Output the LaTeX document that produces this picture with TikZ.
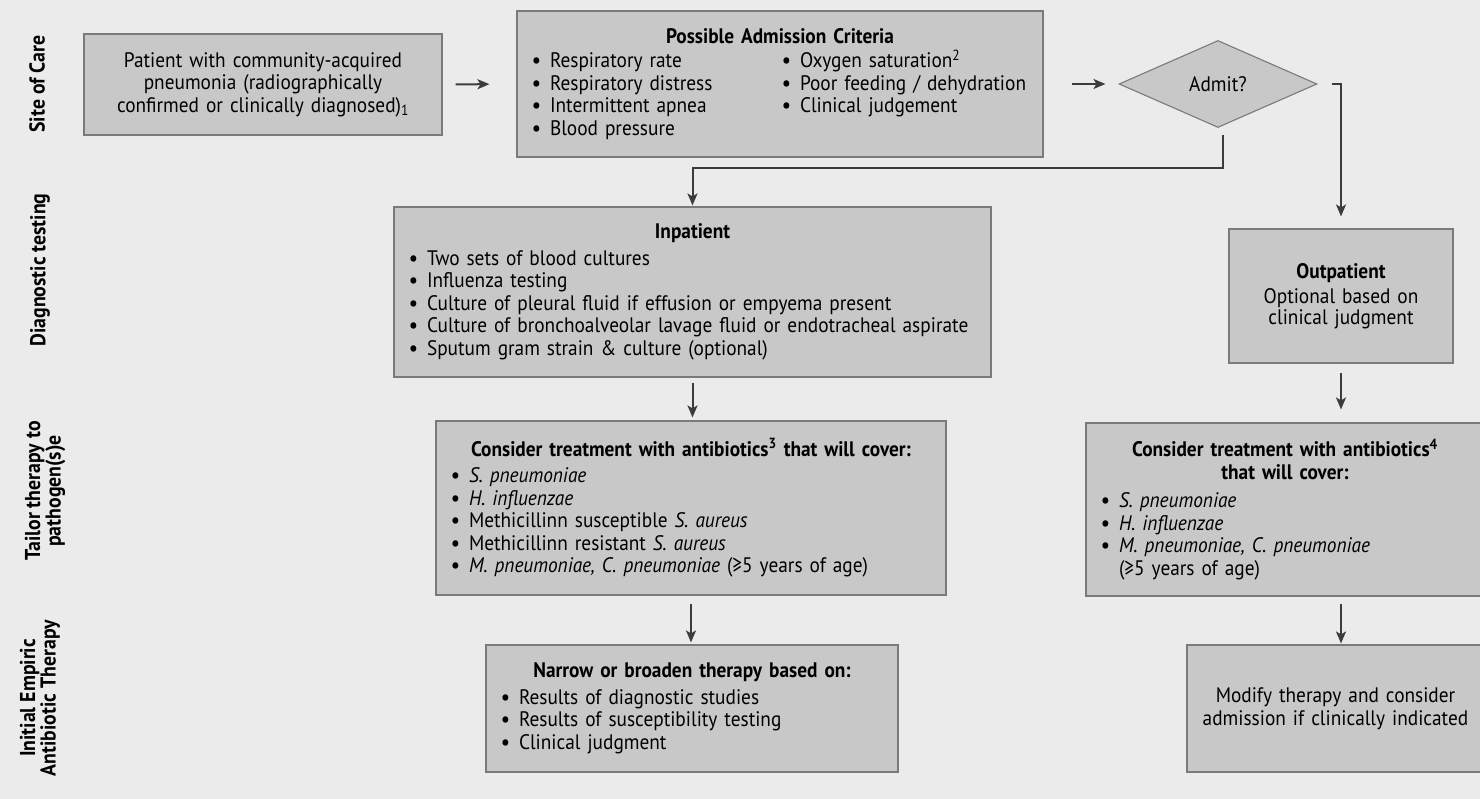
\documentclass[tikz,border=0pt]{standalone}
\usepackage{fontspec}
\setmainfont{PT Sans}[FakeStretch=0.92]
\usetikzlibrary{arrows.meta,shapes.geometric,calc}
\definecolor{bg}{HTML}{EBEBEB}
\definecolor{boxfill}{HTML}{C8C8C8}
\definecolor{boxline}{HTML}{7A7A7A}
\definecolor{arrcol}{HTML}{3C3C3C}
\newcommand{\bulletmark}{{\bfseries\textbullet}}
\newcommand{\bi}[1]{\par\hangindent=18pt\hangafter=1\noindent\makebox[18pt][l]{\bulletmark}#1}
\newcommand{\contline}[1]{\par\noindent\hspace*{18pt}#1}
\begin{document}
\begin{tikzpicture}[x=1pt,y=1pt,
  box/.style={draw=boxline, fill=boxfill, line width=1.1pt, inner xsep=15pt, inner ysep=0pt, align=left, font=\fontsize{21}{22.5}\selectfont},
  cbox/.style={box, align=center},
  arr/.style={draw=arrcol, line width=2pt, -{Stealth[length=12pt,width=10pt,inset=3pt]}},
  lane/.style={rotate=90, align=center, font=\fontsize{21.5}{20.5}\selectfont\bfseries, text=black}]
\fill[bg] (0,0) rectangle (1480,799);
\useasboundingbox (0,0) rectangle (1480,799);
\clip (0,0) rectangle (1480,799);

% lane labels
\node[lane] (l1) at (37,715) {Site of Care};
\node[lane] (l2) at (40,529) {Diagnostic testing};
\node[lane] (l3) at (45,308) {Tailor therapy to\\pathogen(s)e};
\node[lane] (l4) at (40,101) {Initial Empiric\\Antibiotic Therapy};

% boxes
\node[cbox, text width=328pt, minimum height=101pt] (pat) at (263,714.5)
  {Patient with community-acquired\\ pneumonia (radiographically\\ confirmed or clinically diagnosed)\textsubscript{1}};

\node[box, text width=496pt, minimum height=146pt] (adm) at (780,715)
  {{\centering\bfseries Possible Admission Criteria\par}\vspace{2pt}%
   \noindent\begin{minipage}[t]{250pt}\bi{Respiratory rate}\bi{Respiratory distress}\bi{Intermittent apnea}\bi{Blood pressure}\end{minipage}%
   \begin{minipage}[t]{246pt}\bi{Oxygen saturation\textsuperscript{2}}\bi{Poor feeding / dehydration}\bi{Clinical judgement}\end{minipage}};

\node[diamond, draw=boxline, fill=boxfill, line width=1.1pt, minimum width=198pt, minimum height=87pt, inner sep=0pt, font=\fontsize{21}{22}\selectfont] (admit) at (1218,715) {Admit?};

\node[box, text width=567pt, minimum height=170pt] (inp) at (692.5,507)
  {{\centering\bfseries Inpatient\par}\vspace{4pt}%
   \bi{Two sets of blood cultures}\bi{Influenza testing}\bi{Culture of pleural fluid if effusion or empyema present}\bi{Culture of bronchoalveolar lavage fluid or endotracheal aspirate}\bi{Sputum gram strain \& culture (optional)}};

\node[cbox, text width=194pt, minimum height=134pt, font=\fontsize{21}{20.5}\selectfont] (outp) at (1341,503)
  {{\bfseries Outpatient}\\[5pt] Optional based on\\ clinical judgment};

\node[box, text width=480pt, minimum height=174pt] (cons1) at (691,291)
  {{\centering\bfseries Consider treatment with antibiotics\textsuperscript{3} that will cover:\par}\vspace{4pt}%
   \bi{\textit{S. pneumoniae}}\bi{\textit{H. influenzae}}\bi{Methicillinn susceptible \textit{S. aureus}}\bi{Methicillinn resistant \textit{S. aureus}}\bi{\textit{M. pneumoniae, C. pneumoniae} (≥5 years of age)}};

\node[box, text width=368pt, minimum height=173pt] (cons2) at (1285,289.5)
  {{\centering\bfseries Consider treatment with antibiotics\textsuperscript{4}\\ that will cover:\par}\vspace{6pt}%
   \bi{\textit{S. pneumoniae}}\bi{\textit{H. influenzae}}\bi{\textit{M. pneumoniae, C. pneumoniae}}\contline{(≥5 years of age)}};

\node[box, text width=382pt, minimum height=127pt] (narrow) at (692,90.5)
  {{\centering\bfseries Narrow or broaden therapy based on:\par}\vspace{4pt}%
   \bi{Results of diagnostic studies}\bi{Results of susceptibility testing}\bi{Clinical judgment}};

\node[cbox, inner xsep=6pt, text width=285pt, minimum height=127pt] (mod) at (1335.5,90.5)
  {Modify therapy and consider\\ admission if clinically indicated};

% connectors
\draw[arr, shorten <=13pt, shorten >=27pt] (pat.east) -- (adm.west);
\draw[arr, shorten <=28pt, shorten >=13pt] (adm.east) -- (admit.west);
\coordinate (c1) at ([xshift=5pt,yshift=-39.5pt]admit.south);
\draw[arr, shorten >=1pt] ([xshift=5pt,yshift=-7pt]admit.south) -- (c1) -| (inp.north);
\draw[arr, shorten >=12pt] ([xshift=14pt]admit.east) -| (outp.north);
\draw[arr, shorten <=5pt, shorten >=3pt] (inp.south) -- (inp.south |- cons1.north);
\draw[arr, shorten <=9pt, shorten >=13pt] (outp.south) -- (outp.south |- cons2.north);
\draw[arr, shorten <=8pt, shorten >=2pt] (cons1.south) -- (cons1.south |- narrow.north);
\draw[arr, shorten <=7pt, shorten >=1pt] (outp.south |- cons2.south) -- (outp.south |- mod.north);
\end{tikzpicture}
\end{document}
